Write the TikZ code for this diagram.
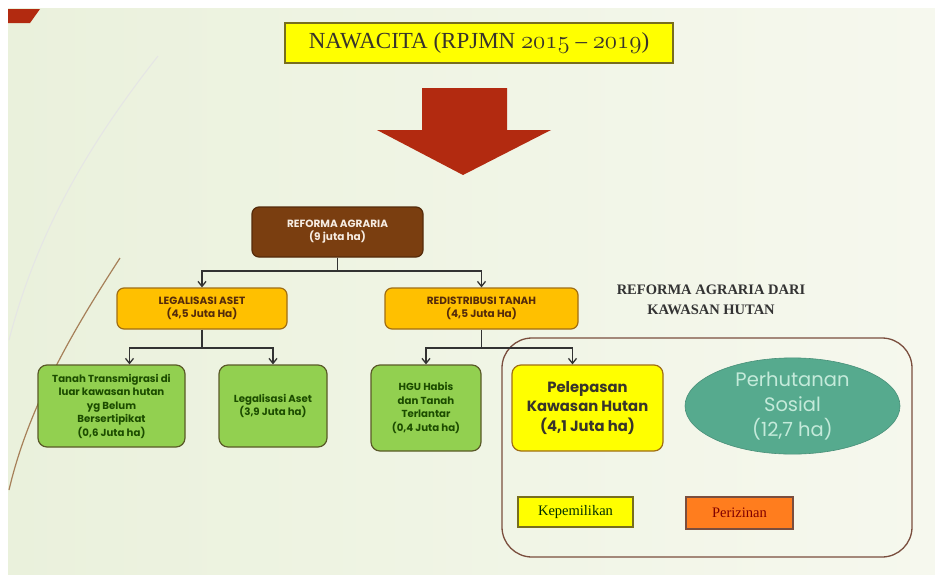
\documentclass[tikz,border=0pt]{standalone}
\usepackage{fontspec}
\newfontfamily\pop{Poppins}
\newfontfamily\tms[Ligatures=TeX]{Liberation Serif}
\usetikzlibrary{arrows.meta,shapes.geometric}
\newcommand{\osn}[1]{{\fontencoding{OML}\fontfamily{cmm}\fontseries{m}\fontshape{it}\selectfont #1}}
\definecolor{bgL}{RGB}{234,241,220}
\definecolor{bgR}{RGB}{246,248,238}
\definecolor{redarrow}{RGB}{178,42,16}
\definecolor{brownbox}{RGB}{122,62,16}
\definecolor{amber}{RGB}{255,192,0}
\definecolor{amberline}{RGB}{160,110,20}
\definecolor{greenbox}{RGB}{146,208,80}
\definecolor{greenline}{RGB}{90,90,40}
\definecolor{greentext}{RGB}{28,76,0}
\definecolor{ylw}{RGB}{255,255,0}
\definecolor{ylwline}{RGB}{120,110,30}
\definecolor{teal}{RGB}{86,170,142}
\definecolor{tealtext}{RGB}{196,234,218}
\definecolor{frame}{RGB}{122,78,62}
\definecolor{orangebox}{RGB}{255,125,30}
\definecolor{darkline}{RGB}{50,50,50}
\tikzset{
  boxbase/.style={rounded corners=7pt, line width=1.2pt, align=center, inner sep=0pt},
  brownstyle/.style={boxbase, fill=brownbox, draw=brownbox!70!black, text=brown!15!white, font=\pop\bfseries\fontsize{10.5}{13}\selectfont},
  amberstyle/.style={boxbase, fill=amber, draw=amberline, text=brownbox!70!black, font=\pop\bfseries\fontsize{10.5}{13}\selectfont},
  greenstyle/.style={boxbase, rounded corners=9pt, fill=greenbox, draw=greenline, text=greentext, font=\pop\bfseries\fontsize{10.2}{13.5}\selectfont},
  conn/.style={draw=darkline, line width=1.3pt},
  arr/.style={conn, -{Straight Barb[length=5pt,width=8pt]}},
}
\begin{document}
\begin{tikzpicture}[x=1pt,y=-1pt]
\useasboundingbox (0,0) rectangle (935,574);
\fill[white] (0,0) rectangle (935,574);
\shade[left color=bgL, right color=bgR] (8,8) rectangle (935,574);
% decorative corner and curves
\fill[redarrow] (8,9) -- (40,9) -- (30,23) -- (8,23) -- cycle;
\draw[white!80!gray, line width=1pt] (158,56) .. controls (100,130) and (40,220) .. (9,340);
\draw[brown!60!gray, line width=1.2pt] (120,258) .. controls (80,320) and (30,400) .. (9,490);
% title
\node[draw=ylwline, fill=ylw, line width=1.2pt, minimum width=388pt, minimum height=40pt, inner sep=0pt,
      text=black!80!olive, font=\tms\fontsize{23}{26}\selectfont] (title) at (479,43)
  {NAWACITA (RPJMN {\fontsize{25}{26}\selectfont\osn{2015}} – {\fontsize{25}{26}\selectfont\osn{2019}})};
% big arrow
\fill[redarrow] (422,88) -- (507,88) -- (507,130) -- (551,130) -- (463,175) -- (377,130) -- (422,130) -- cycle;
% boxes
\node[brownstyle, minimum width=171pt, minimum height=50pt] (ra) at (337.5,232) {REFORMA AGRARIA\\(9 juta ha)};
\node[amberstyle, minimum width=170pt, minimum height=41pt] (legal) at (202,308.5) {LEGALISASI ASET\\(4,5 Juta Ha)};
\node[amberstyle, minimum width=193pt, minimum height=41pt] (redis) at (481.5,308.5) {REDISTRIBUSI TANAH\\(4,5 Juta Ha)};
\node[greenstyle, minimum width=147pt, minimum height=82pt] (g1) at (111.5,406)
  {Tanah Transmigrasi di\\luar kawasan hutan\\yg Belum\\Bersertipikat\\(0,6 Juta ha)};
\node[greenstyle, minimum width=108pt, minimum height=82pt] (g2) at (273,406) {Legalisasi Aset\\(3,9 Juta ha)};
\node[greenstyle, minimum width=110pt, minimum height=86pt] (hgu) at (426,408)
  {HGU Habis\\dan Tanah\\Terlantar\\(0,4 Juta ha)};
% frame
\draw[frame, line width=1.3pt, rounded corners=30pt] (502,338) rectangle (912,557);
\node[boxbase, rounded corners=9pt, fill=ylw, draw=amberline, minimum width=151pt, minimum height=86pt,
      text=black!80!olive, font=\pop\bfseries\fontsize{14.8}{19.5}\selectfont] (pel) at (587.5,408)
  {Pelepasan\\Kawasan Hutan\\(4,1 Juta ha)};
\node[ellipse, fill=teal, draw=teal!85!black, line width=0.6pt, minimum width=215pt, minimum height=88pt, inner sep=0pt,
      align=center, text=tealtext, font=\pop\fontsize{19.5}{25}\selectfont] (ps) at (792.5,406)
  {Perhutanan\\Sosial\\(12,7 ha)};
\node[align=center, text=black!80, font=\tms\bfseries\fontsize{14.5}{20}\selectfont] (hdr) at (711,300)
  {REFORMA AGRARIA DARI\\KAWASAN HUTAN};
\node[draw=ylwline, fill=ylw, line width=1.2pt, minimum width=115pt, minimum height=30pt, inner sep=0pt,
      text=black!70!green!60!black, font=\tms\fontsize{14.5}{16}\selectfont] (kep) at (575.5,512) {Kepemilikan};
\node[draw=frame, fill=orangebox, line width=1.2pt, minimum width=107pt, minimum height=32pt, inner sep=0pt,
      text=red!50!black, font=\tms\fontsize{14.5}{16}\selectfont] (per) at (739.5,513) {Perizinan};
% connectors
\coordinate (j1) at (337.5,271);
\coordinate (j2) at (202,348);
\coordinate (j3) at (481.5,348);
\draw[conn] (ra.south) -- (j1);
\draw[arr] (j1) -| (legal.north);
\draw[arr] (j1) -| (redis.north);
\draw[conn] (legal.south) -- (j2);
\draw[arr] (j2) -| ([xshift=18pt]g1.north);
\draw[arr] (j2) -| (g2.north);
\draw[conn] (redis.south) -- (j3);
\draw[arr] (j3) -| (hgu.north);
\draw[arr] (j3) -| ([xshift=-15pt]pel.north);
\end{tikzpicture}
\end{document}
